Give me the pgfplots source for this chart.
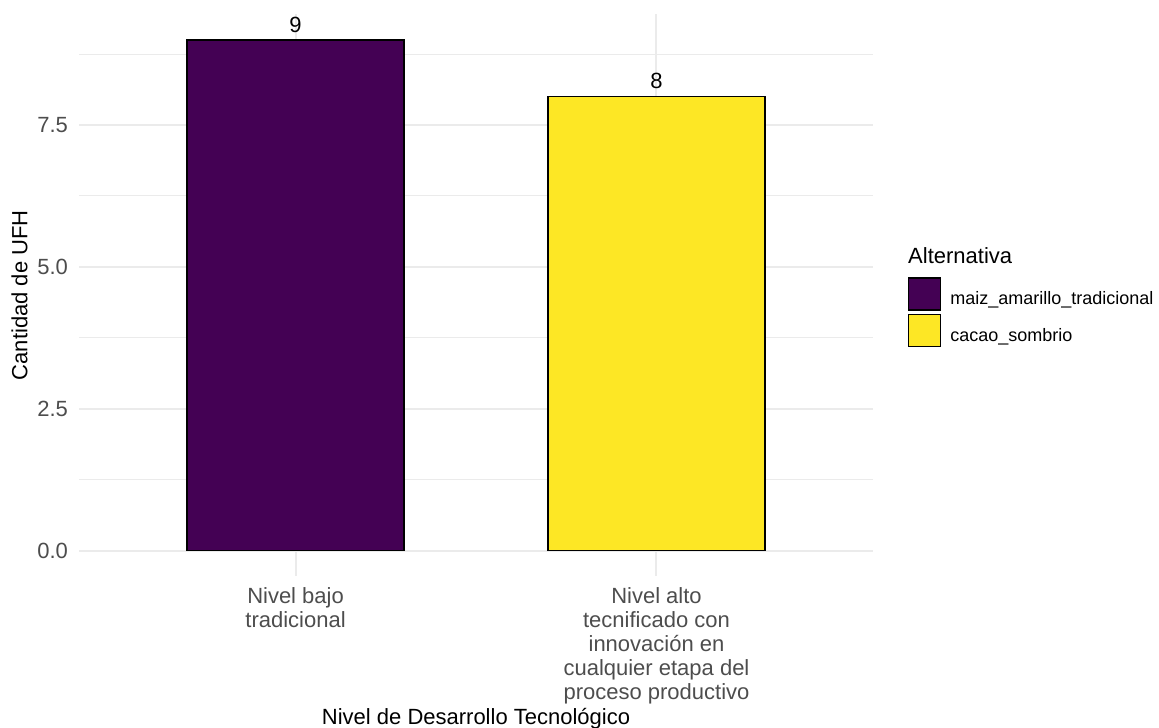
\documentclass[border=0pt]{standalone}
\usepackage{fontspec}
\setmainfont{Liberation Sans}
\usepackage{pgfplots}
\pgfplotsset{compat=1.18}
\definecolor{vpurple}{HTML}{440154}
\definecolor{vyellow}{HTML}{FDE725}
\definecolor{gridgray}{HTML}{EBEBEB}
\definecolor{tickgray}{HTML}{4D4D4D}
\begin{document}
\begin{tikzpicture}
\begin{axis}[
  scale only axis, width=397.1pt, height=281pt,
  xmin=-0.6, xmax=1.6, ymin=-0.45, ymax=9.45,
  axis line style={draw=none}, major tick length=0pt, minor tick length=0pt,
  tick style={draw=none},
  xtick={0,1},
  xticklabels={{Nivel bajo\\tradicional},{Nivel alto\\tecnificado con\\innovación en\\cualquier etapa del\\proceso productivo}},
  xticklabel style={align=center, font=\fontsize{11}{12}\selectfont, text=tickgray, yshift=-2.3pt},
  ytick={0,2.5,5,7.5}, yticklabels={0.0,2.5,5.0,7.5},
  yticklabel style={font=\fontsize{11}{12}\selectfont, text=tickgray, xshift=-2pt},
  minor ytick={1.25,3.75,6.25,8.75},
  xmajorgrids, ymajorgrids, yminorgrids,
  major grid style={line width=1pt, color=gridgray},
  minor grid style={line width=0.5pt, color=gridgray},
  xlabel={Nivel de Desarrollo Tecnológico},
  xlabel style={at={(rel axis cs:0.5,0)}, anchor=base, yshift=-74pt, font=\fontsize{11}{12}\selectfont, inner sep=0pt},
  ylabel={Cantidad de UFH},
  ylabel style={at={([xshift=-29.75pt]rel axis cs:0,0.5)}, anchor=center, font=\fontsize{11}{12}\selectfont},
  /pgf/number format/assume math mode=true,
  nodes near coords,
  nodes near coords style={font=\fontsize{11}{12}\selectfont, text=black},
  clip=false,
  legend image code/.code={\draw[#1, line width=0.8pt] (0pt,-5pt) rectangle (16pt,11pt);},
  legend style={at={(1.0438,0.5325)}, anchor=north west, draw=none, fill=none,
    inner sep=0pt, outer sep=0pt, row sep=1.5pt, column sep=4pt,
    font=\fontsize{9}{10}\selectfont, nodes={inner sep=0.5pt}},
  legend cell align=left,
]
\addplot[ybar, bar width=0.6, bar shift=0pt, fill=vpurple, draw=black, line width=0.8pt] coordinates {(0,9)};
\addlegendentry{maiz\_amarillo\_tradicional}
\addplot[ybar, bar width=0.6, bar shift=0pt, fill=vyellow, draw=black, line width=0.8pt] coordinates {(1,8)};
\addlegendentry{cacao\_sombrio}
\node[anchor=base west, inner sep=0pt, font=\fontsize{11}{12}\selectfont] at (rel axis cs:1.0438,0.5574) {Alternativa};
\end{axis}
\pgfresetboundingbox
\path[use as bounding box] (-39.5pt,-75.9pt) rectangle (540.1pt,288.15pt);
\end{tikzpicture}
\end{document}
